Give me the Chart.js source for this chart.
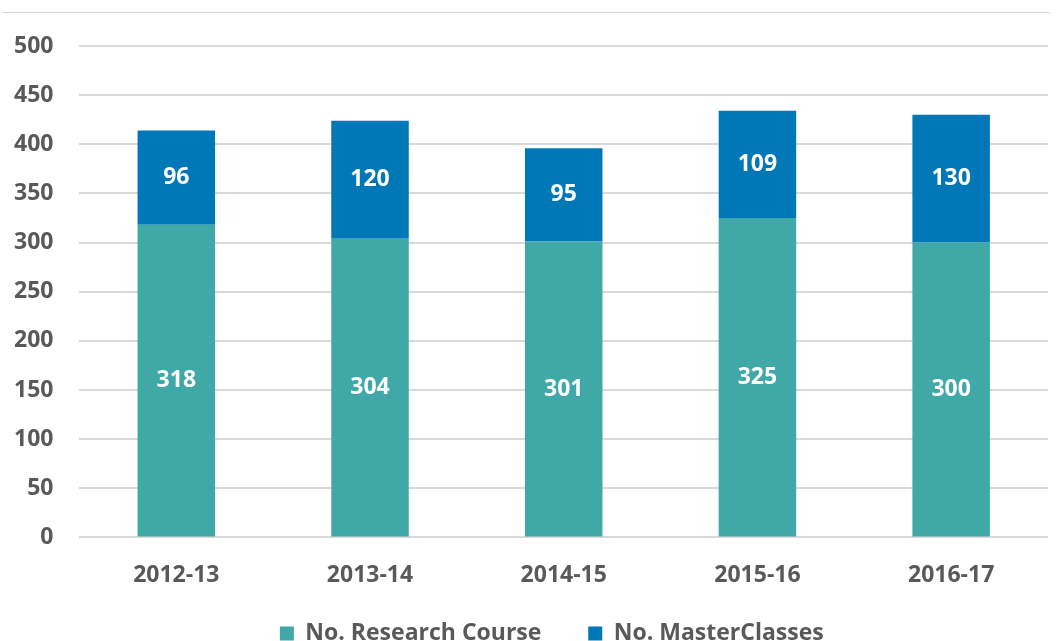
<!DOCTYPE html>
<html>
<head>
<meta charset="utf-8">
<script src="https://cdn.jsdelivr.net/npm/chart.js@4"></script>
<style>
  html, body { margin: 0; padding: 0; background: #fff; }
  #wrap { width: 1060px; height: 641px; position: relative; }
</style>
</head>
<body>
<div id="wrap"><canvas id="chart"></canvas></div>
<script>
// data
const years = ["2012-13", "2013-14", "2014-15", "2015-16", "2016-17"];
const researchCourse = [318, 304, 301, 325, 300];
const masterClasses = [96, 120, 95, 109, 130];

const tealColor = "#41a8a8";
const blueColor = "#0077b6";
const textGrey = "#595959";
const fontFamily = "'Open Sans', sans-serif";

// white value labels in the middle of each segment
const segmentLabels = {
  id: "segmentLabels",
  afterDatasetsDraw(chart) {
    const ctx = chart.ctx;
    ctx.save();
    ctx.fillStyle = "#fff";
    ctx.font = "bold 23px " + fontFamily;
    ctx.textAlign = "center";
    ctx.textBaseline = "middle";
    chart.data.datasets.forEach((ds, i) => {
      chart.getDatasetMeta(i).data.forEach((bar, j) => {
        const mid = (bar.y + bar.base) / 2;
        ctx.fillText(ds.data[j], bar.x, mid);
      });
    });
    ctx.restore();
  }
};

// thin frame line along the top
const topRule = {
  id: "topRule",
  beforeDraw(chart) {
    const ctx = chart.ctx;
    ctx.save();
    ctx.strokeStyle = "#d9d9d9";
    ctx.lineWidth = 1;
    ctx.beginPath();
    ctx.moveTo(2, 12.5);
    ctx.lineTo(1050, 12.5);
    ctx.stroke();
    ctx.restore();
  }
};

// trailing spaces widen the gap between legend entries and nudge them sideways
const legendPad = ["     ", "    "];

new Chart(document.getElementById("chart"), {
  type: "bar",
  data: {
    labels: years,
    datasets: [
      { label: "No. Research Course", data: researchCourse, backgroundColor: tealColor,
        barPercentage: 0.8, categoryPercentage: 0.5 },
      { label: "No. MasterClasses", data: masterClasses, backgroundColor: blueColor,
        barPercentage: 0.8, categoryPercentage: 0.5 }
    ]
  },
  options: {
    responsive: true,
    maintainAspectRatio: false,
    animation: false,
    layout: { padding: { left: -12, right: 12, top: 46, bottom: -14 } },
    plugins: {
      legend: {
        position: "bottom",
        fullSize: false,
        labels: {
          color: textGrey,
          font: { family: fontFamily, size: 23, weight: "bold" },
          boxWidth: 14, boxHeight: 14, padding: 17,
          generateLabels(chart) {
            const items = Chart.defaults.plugins.legend.labels.generateLabels(chart);
            items.forEach((it, i) => { it.text = it.text + legendPad[i]; });
            return items;
          }
        }
      },
      tooltip: { enabled: false }
    },
    scales: {
      x: {
        stacked: true,
        grid: { display: false },
        border: { display: false },
        ticks: { color: textGrey, padding: 16,
          font: { family: fontFamily, size: 23, weight: "bold" } }
      },
      y: {
        stacked: true,
        min: 0, max: 500,
        border: { display: false },
        grid: { color: "#d9d9d9", lineWidth: 2, drawTicks: false },
        ticks: { stepSize: 50, color: textGrey, padding: 26,
          font: { family: fontFamily, size: 23, weight: "bold" } }
      }
    }
  },
  plugins: [segmentLabels, topRule]
});
</script>
</body>
</html>
